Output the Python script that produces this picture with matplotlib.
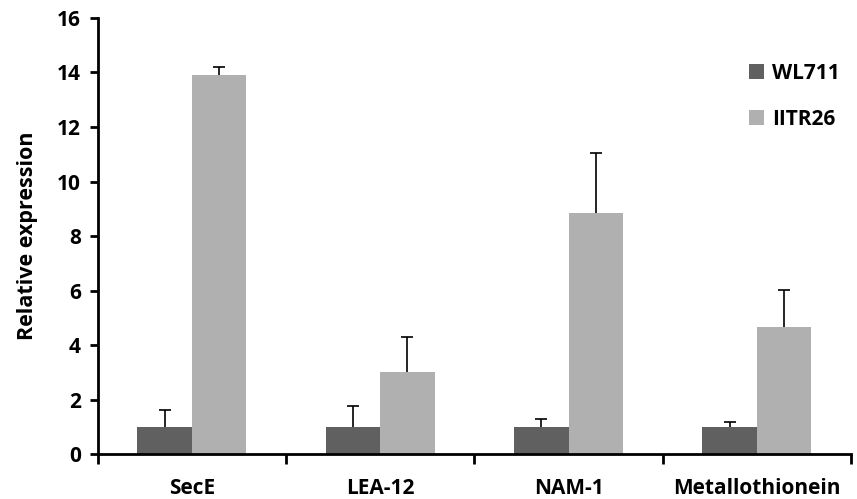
import numpy as np
import matplotlib.pyplot as plt

genes = ["SecE", "LEA-12", "NAM-1", "Metallothionein"]
wl711 = [1.0, 1.0, 1.0, 1.0]
wl711_err = [0.6, 0.75, 0.3, 0.18]
iitr26 = [13.9, 3.0, 8.85, 4.65]
iitr26_err = [0.3, 1.3, 2.2, 1.38]

plt.rcParams["font.family"] = ["Open Sans", "DejaVu Sans"]
plt.rcParams["font.weight"] = "bold"

fig = plt.figure(figsize=(8.57, 4.99), dpi=100)
ax = fig.add_axes([0.114, 0.090, 0.879, 0.874])

x = np.arange(len(genes))
w = 0.29
ekw = dict(elinewidth=1.2, capthick=1.2, ecolor="black")
b1 = ax.bar(x - w / 2, wl711, w, color="#606060", label="WL711",
            yerr=[np.zeros(len(genes)), wl711_err], capsize=4, error_kw=ekw)
b2 = ax.bar(x + w / 2, iitr26, w, color="#b0b0b0", label="IITR26",
            yerr=[np.zeros(len(genes)), iitr26_err], capsize=4, error_kw=ekw)
# only the upper half of each error bar is shown
for b in (b1, b2):
    b.errorbar.lines[1][0].set_visible(False)

ax.set_xlim(-0.5, len(genes) - 0.5)
ax.set_ylim(0, 16)
ax.set_yticks(range(0, 17, 2))
ax.set_xticks(x)
ax.set_xticklabels(genes)
ax.set_xticks(np.arange(-0.5, len(genes)), minor=True)
ax.tick_params(axis="x", which="major", length=0, pad=17, labelsize=15)
ax.tick_params(axis="x", which="minor", length=7, width=2, direction="out")
ax.tick_params(axis="y", length=6, width=2, labelsize=15, pad=6)
ax.set_ylabel("Relative expression", fontsize=15.5, fontweight="bold", labelpad=14)

for s in ["top", "right"]:
    ax.spines[s].set_visible(False)
for s in ["left", "bottom"]:
    ax.spines[s].set_linewidth(2)

ax.legend(loc="upper right", bbox_to_anchor=(1.01, 0.94), frameon=False,
          fontsize=15, handlelength=0.7, handleheight=0.7, handletextpad=0.4,
          labelspacing=1.2)

fig.savefig("out.png", dpi=100)
